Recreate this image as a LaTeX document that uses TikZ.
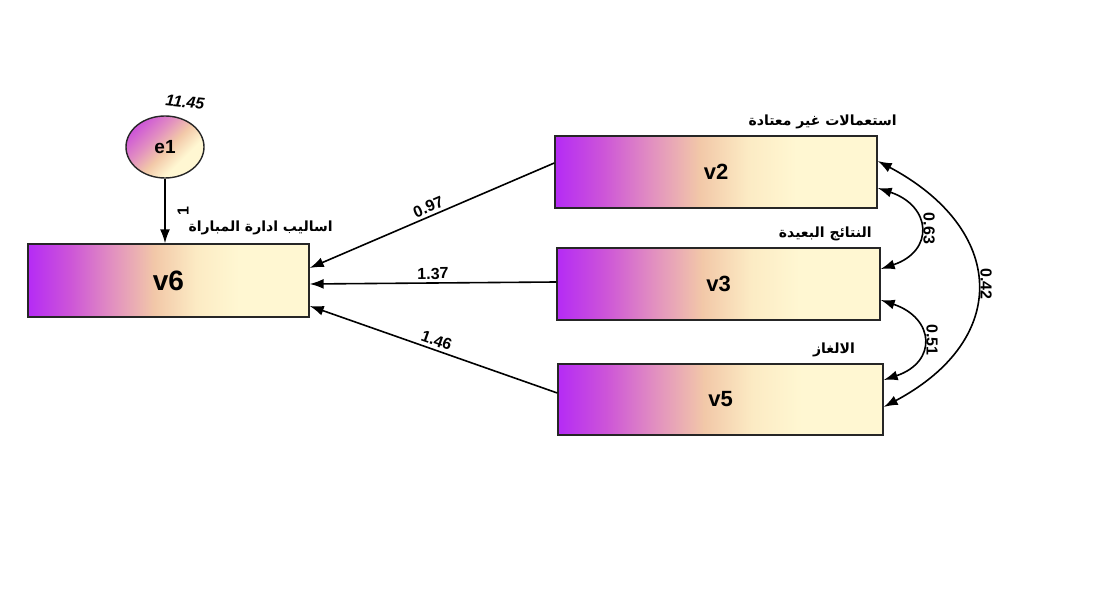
\documentclass[tikz,border=0pt]{standalone}
\usepackage{fontspec}
\setmainfont{Liberation Sans}
\newfontfamily\arabicfont[Script=Arabic]{DejaVu Sans}
\TeXXeTstate=1
\usepackage{tikz}
\usetikzlibrary{calc, arrows.meta, shapes.geometric}
\definecolor{vpurple}{RGB}{181, 43, 245}
\definecolor{vmag}{RGB}{205, 85, 216}
\definecolor{vpink}{RGB}{226, 144, 192}
\definecolor{vpeach}{RGB}{242, 200, 168}
\definecolor{vlight}{RGB}{252, 235, 196}
\definecolor{vcream}{RGB}{255, 247, 210}
\pgfdeclarehorizontalshading{vargrad}{100bp}{color(0bp)=(vpurple); color(25bp)=(vpurple); color(32.5bp)=(vmag); color(40bp)=(vpink); color(47.5bp)=(vpeach); color(55bp)=(vlight); color(62.5bp)=(vcream); color(100bp)=(vcream)}
\pgfdeclarehorizontalshading{errgrad}{100bp}{color(0bp)=(vmag); color(25bp)=(vmag); color(40bp)=(vpink); color(52bp)=(vpeach); color(65bp)=(vcream); color(100bp)=(vcream)}
\tikzset{>={Latex[length=7pt,width=5pt]}}

\begin{document}
\begin{tikzpicture}[x = 0.5pt, y = -0.5pt,
  varbox/.style = {draw = black!85, line width = 0.7pt, shading = vargrad, inner sep = 0pt, font = \bfseries\fontsize{11}{11}\selectfont},
  errnode/.style = {ellipse, draw = black!85, line width = 0.7pt, shading = errgrad, shading angle = -45, inner sep = 0pt, minimum width = 39pt, minimum height = 31pt, font = \bfseries\fontsize{9.5}{9.5}\selectfont},
  reg/.style = {->, line width = 0.8pt},
  cov/.style = {<->, line width = 0.8pt},
  coeff/.style = {font = \bfseries\fontsize{8}{8}\selectfont, inner sep = 1.5pt},
  arlabel/.style = {font = \arabicfont\bfseries\fontsize{7}{7}\selectfont, inner sep = 0pt}]
\useasboundingbox (0,0) rectangle (1111,613);
% variables
\node[varbox, minimum width = 140.5pt, minimum height = 36.5pt, font = \bfseries\fontsize{14}{14}\selectfont] (v6) at (168.5, 280.5) {v6};
\node[varbox, minimum width = 161pt, minimum height = 36pt] (v2) at (716, 172) {v2};
\node[varbox, minimum width = 161.5pt, minimum height = 36pt] (v3) at (718.5, 284) {v3};
\node[varbox, minimum width = 162.5pt, minimum height = 35.5pt] (v5) at (720.5, 399.5) {v5};
\node[errnode] (e1) at (165, 147) {e1};
% labels
\node[font = \bfseries\itshape\fontsize{8}{8}\selectfont, rotate = -6] (e1var) at (185, 102) {11.45};
\node[arlabel, anchor = east] (lv6) at (333, 228) {\beginR اساليب ادارة المباراة\endR};
\node[arlabel, anchor = east] (lv2) at (897, 122) {\beginR استعمالات غير معتادة\endR};
\node[arlabel, anchor = east] (lv3) at (872, 234) {\beginR النتائج البعيدة\endR};
\node[arlabel] (lv5) at (834, 350) {\beginR الالغاز\endR};
% paths
\draw[reg] (e1.south) -- (e1.south |- v6.north) node[coeff, pos = .5, xshift = 9pt, rotate = 90] {1};
\draw[reg] ($(v2.west)+(0,-9)$) -- ($(v6.east)+(0,-12.5)$) node[coeff, pos = .5, sloped, above] {0.97};
\draw[reg] ($(v3.west)+(0,-2)$) -- ($(v6.east)+(0,3.5)$) node[coeff, pos = .5, sloped, above] {1.37};
\draw[reg] ($(v5.west)+(0,-6.5)$) -- ($(v6.east)+(0,25.5)$) node[coeff, pos = .5, sloped, above] {1.46};
% covariances
\draw[cov] ($(v2.east)+(0,16)$) .. controls +(54,18) and +(54,-18) .. ($(v3.east)+(0,-15)$) node[coeff, pos = .5, rotate = -90, anchor = south] {0.63};
\draw[cov] ($(v3.east)+(0,16)$) .. controls +(54,18) and +(54,-18) .. ($(v5.east)+(0,-19.5)$) node[coeff, pos = .5, rotate = -90, anchor = south] {0.51};
\draw[cov] ($(v2.east)+(0,-11)$) .. controls +(128,68) and +(128,-68) .. ($(v5.east)+(0,7.5)$) node[coeff, pos = .5, rotate = -90, anchor = south] {0.42};
\end{tikzpicture}
\end{document}
